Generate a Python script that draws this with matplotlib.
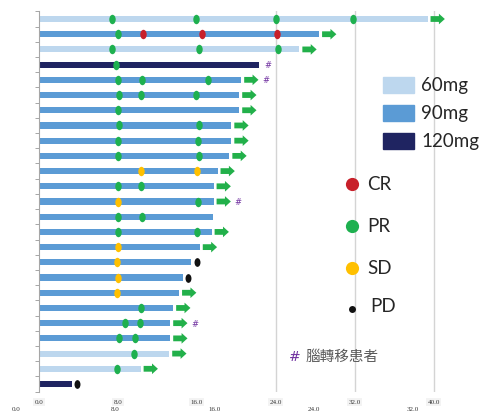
import matplotlib
matplotlib.use("Agg")
import matplotlib.pyplot as plt
from matplotlib.path import Path
from matplotlib.lines import Line2D
from matplotlib.patches import Rectangle
import numpy as np

# ---------------- data ----------------
doses = [60, 90, 60, 120, 90, 90, 90, 90, 90, 90, 90, 90, 90, 90, 90, 90, 90, 90, 90, 90, 90, 90, 60, 60, 120]
durations = [39.4, 28.4, 26.4, 22.3, 20.5, 20.3, 20.3, 19.5, 19.5, 19.3, 18.1, 17.7, 17.7, 17.6, 17.5,
             16.3, 15.4, 14.6, 14.2, 13.6, 13.3, 13.3, 13.2, 10.3, 3.3]
ongoing = [1, 1, 1, 0, 1, 1, 1, 1, 1, 1, 1, 1, 1, 0, 1, 1, 0, 0, 1, 1, 1, 1, 1, 1, 0]
brain_mets = [0, 0, 0, 1, 1, 0, 0, 0, 0, 0, 0, 0, 1, 0, 0, 0, 0, 0, 0, 0, 1, 0, 0, 0, 0]

resp_row = [0, 0, 0, 0,
            1, 1, 1, 1,
            2, 2, 2,
            3,
            4, 4, 4,
            5, 5, 5,
            6,
            7, 7,
            8, 8,
            9, 9,
            10, 10,
            11, 11,
            12, 12,
            13, 13,
            14, 14,
            15,
            16, 16,
            17, 17,
            18,
            19,
            20, 20,
            21, 21,
            22,
            23,
            24]
resp_time = [7.4, 15.9, 24.0, 31.8,
             8.05, 10.5, 16.5, 24.1,
             7.4, 16.2, 24.2,
             7.8,
             8.05, 10.4, 17.1,
             8.15, 10.3, 15.9,
             8.05,
             8.1, 16.2,
             8.05, 16.1,
             8.05, 16.2,
             10.3, 16.0,
             8.0, 10.3,
             8.0, 16.1,
             8.0, 10.4,
             8.0, 16.0,
             8.0,
             7.9, 16.0,
             8.0, 15.1,
             7.9,
             10.3,
             8.7, 10.25,
             8.1, 9.7,
             9.6,
             7.9,
             3.8]
resp_type = ["PR", "PR", "PR", "PR",
             "PR", "CR", "CR", "CR",
             "PR", "PR", "PR",
             "PR",
             "PR", "PR", "PR",
             "PR", "PR", "PR",
             "PR",
             "PR", "PR",
             "PR", "PR",
             "PR", "PR",
             "SD", "SD",
             "PR", "PR",
             "SD", "PR",
             "PR", "PR",
             "PR", "PR",
             "SD",
             "SD", "PD",
             "SD", "PD",
             "SD",
             "PR",
             "PR", "PR",
             "PR", "PR",
             "PR",
             "PR",
             "PD"]

upper_ticks = [0, 8, 16, 24, 32, 40]
lower_ticks = [0, 8, 16, 24, 32]
dose_labels = ["60mg", "90mg", "120mg"]
resp_labels = ["CR", "PR", "SD", "PD"]
note_text = "腦轉移患者"

# ---------------- styles ----------------
dose_colors = {60: "#BDD7EE", 90: "#5B9BD5", 120: "#1F2461"}
resp_colors = {"CR": "#C8202A", "PR": "#1EB04F", "SD": "#FFC000", "PD": "#111111"}
arrow_color = "#22B04A"
purple = "#7030A0"

W, H = 479, 414
fig = plt.figure(figsize=(W / 100, H / 100), dpi=100)

def fx(px):
    return px / W

def fy(py):
    return 1 - py / H

ax_left_px, ax_right_px = 0, 479
ax_top_px, ax_bot_px = 12.4, 392.6
ax = fig.add_axes([fx(ax_left_px), fy(ax_bot_px), fx(ax_right_px - ax_left_px),
                   (ax_bot_px - ax_top_px) / H])
px_per_unit = 9.86
zero_px = 39.1
ax.set_xlim((ax_left_px - zero_px) / px_per_unit, (ax_right_px - zero_px) / px_per_unit)
n = len(durations)
ax.set_ylim(n - 0.5, -0.5)

# grid lines
for g in [24, 32, 40]:
    ax.axvline(g, color="#d4d4d4", lw=1.0, zorder=0)

rows = np.arange(n)
ax.barh(rows, durations, height=0.4, left=0,
        color=[dose_colors[d] for d in doses], edgecolor="none", zorder=2)

# arrows for ongoing
for i in range(n):
    if ongoing[i]:
        start = durations[i] + 0.3
        ax.arrow(start, i, 1.45, 0, width=0.38, head_width=0.7, head_length=0.6,
                 length_includes_head=True, color=arrow_color, zorder=3, lw=0)

# brain metastasis markers
for i in range(n):
    if brain_mets[i]:
        xpos = durations[i] + (2.15 if ongoing[i] else 0.6)
        ax.text(xpos, i, "#", color=purple, fontsize=6, style="italic",
                ha="left", va="center", zorder=4)

# elliptical marker
circ = Path.unit_circle()
ell = Path(circ.vertices * np.array([0.68, 1.0]), circ.codes)

for r, t, k in zip(resp_row, resp_time, resp_type):
    ax.plot(t, r, marker=ell, ms=6.8 if k != "PD" else 6.3, color=resp_colors[k],
            mec="none", ls="none", zorder=5)

# spines / ticks
for s in ["top", "right", "bottom"]:
    ax.spines[s].set_visible(False)
ax.spines["left"].set_position(("data", 0))
ax.spines["left"].set_color("#a6a6a6")
ax.spines["left"].set_linewidth(0.8)
ax.set_yticks(np.arange(-0.5, n, 1.0))
ax.set_yticklabels([])
ax.tick_params(axis="y", direction="out", length=3, color="#a6a6a6", width=0.7)
ax.set_xticks(upper_ticks)
ax.set_xticklabels([f"{v:.1f}" for v in upper_ticks], family="Liberation Serif",
                   fontsize=5, color="#333333")
ax.tick_params(axis="x", length=0, pad=5.5)
for lab in ax.get_xticklabels():
    lab.set_bbox(dict(facecolor="#f3f3f3", edgecolor="none", pad=1.0))

ax2 = ax.twiny()
lo_a, lo_b = 16.2, 12.39
ax2.set_xlim((ax_left_px - lo_a) / lo_b, (ax_right_px - lo_a) / lo_b)
ax2.xaxis.set_ticks_position("bottom")
ax2.xaxis.set_label_position("bottom")
ax2.set_xticks(lower_ticks)
ax2.set_xticklabels([f"{v:.1f}" for v in lower_ticks], family="Liberation Serif",
                    fontsize=5, color="#333333")
ax2.tick_params(axis="x", length=0, pad=10.5)
for s in ax2.spines.values():
    s.set_visible(False)

# ---------------- legends ----------------
font = "Lato"
box_y = [86, 114, 142]
for lab, d, yc in zip(dose_labels, [60, 90, 120], box_y):
    fig.add_artist(Rectangle((fx(383), fy(yc + 8)), fx(31), 16 / H,
                             transform=fig.transFigure, color=dose_colors[d]))
    fig.text(fx(421), fy(yc), lab, fontsize=13.5, family=font, color="#262626",
             ha="left", va="center")

resp_y = [185, 227, 269, 310]
for lab, yc in zip(resp_labels, resp_y):
    ms = 9.5 if lab != "PD" else 5
    fig.add_artist(Line2D([fx(352)], [fy(yc)], transform=fig.transFigure, marker="o",
                          ms=ms, color=resp_colors[lab], mec="none", ls="none"))
    fig.text(fx(367 if lab != "PD" else 370), fy(yc if lab != "PD" else 307), lab,
             fontsize=13.5, family=font, color="#262626", ha="left", va="center")

fig.text(fx(288), fy(357), "#", fontsize=10, color=purple, style="italic",
         family="DejaVu Sans", ha="left", va="center")
fig.text(fx(306), fy(357), note_text, fontsize=10.5, color="#595959",
         family=["Noto Sans CJK TC", "DejaVu Sans"], style="italic",
         ha="left", va="center")

fig.savefig("out.png", dpi=100)
